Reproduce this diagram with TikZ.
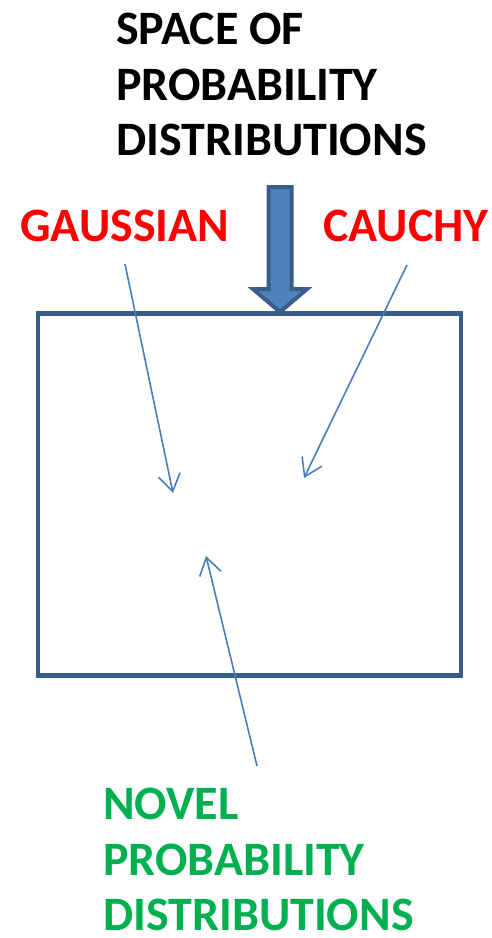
\documentclass[tikz,border=0pt]{standalone}
\usepackage{fontspec}
\setmainfont{Carlito}
\definecolor{boxline}{RGB}{56,93,138}
\definecolor{boxfill}{RGB}{79,129,189}
\definecolor{thinline}{RGB}{74,126,187}
\definecolor{cred}{RGB}{255,0,0}
\definecolor{cgreen}{RGB}{0,176,80}
\tikzset{probspace/.style={x=1pt,y=-1pt},
  biglabel/.style={anchor=north west,inner sep=0pt,align=left,font=\bfseries\fontsize{48}{55.5}\selectfont},
  thinarr/.style={thinline,line width=1.6pt,-{Straight Barb[length=17pt,width=22pt,line width=1.6pt]}}}
\usetikzlibrary{arrows.meta}

\begin{document}
\begin{tikzpicture}[probspace]
    \useasboundingbox (0,0) rectangle (491,938);
    \def\ax{280}
    % labels
    \node[biglabel] (title) at (116,13) {SPACE OF\\PROBABILITY\\DISTRIBUTIONS};
    \node[biglabel,cred] (gauss) at (20,210) {GAUSSIAN};
    \node[biglabel,cred] (cauchy) at (323,210) {CAUCHY};
    \node[biglabel,cgreen] (novel) at (103,788) {NOVEL\\PROBABILITY\\DISTRIBUTIONS};
    % the space itself
    \node[draw=boxline,line width=4.5pt,minimum width=423pt,minimum height=362pt,inner sep=0pt] (space) at (249.5,494.5) {};
    % big arrow into the box
    \draw[boxline,fill=boxfill,line width=4pt] (\ax-11.5,187) -- (\ax+11.5,187) -- (\ax+11.5,289) -- (\ax+27,289)
        -- (\ax,312) -- (\ax-27,289) -- (\ax-11.5,289) -- cycle;
    % thin arrows
    \coordinate (gtail) at (125,264);  \coordinate (gtip) at (173,493);
    \coordinate (ctail) at (407,265);  \coordinate (ctip) at (304,478);
    \coordinate (ntail) at (257,766);  \coordinate (ntip) at (206,556);
    \draw[thinarr] (gtail) -- (gtip);
    \draw[thinarr] (ctail) -- (ctip);
    \draw[thinarr] (ntail) -- (ntip);
\end{tikzpicture}
\end{document}
